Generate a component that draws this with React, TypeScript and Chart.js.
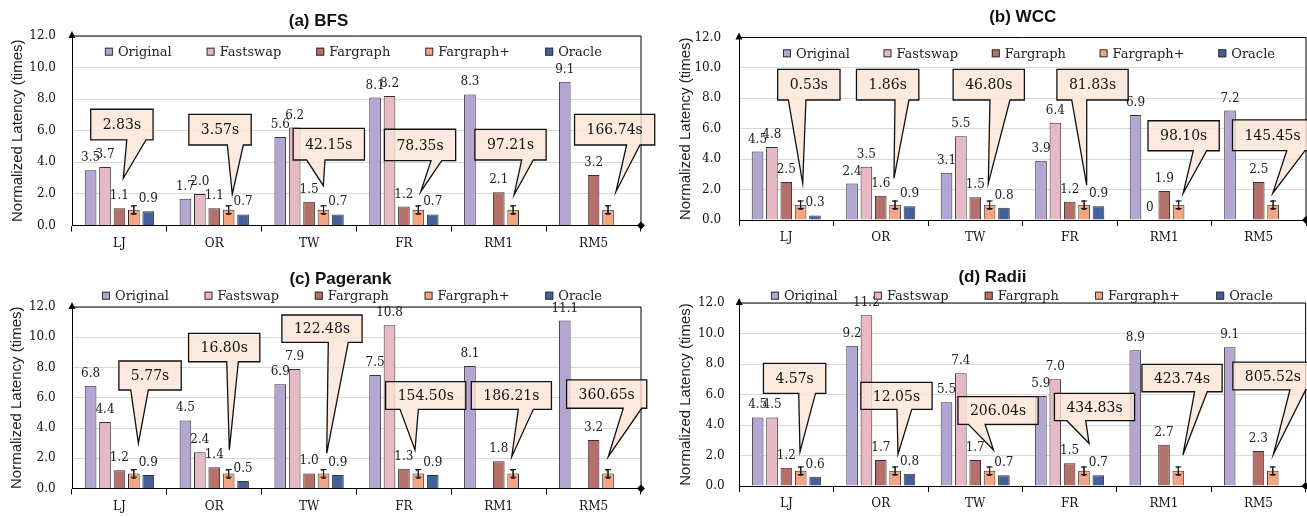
import React, { useEffect, useRef } from "react";
import { Chart, registerables } from "chart.js";

Chart.register(...registerables);

const SERIF = "'DejaVu Serif', serif";
const SANS = "'Liberation Sans', Arial, sans-serif";

// ---------- data ----------
const CATEGORIES = ["LJ", "OR", "TW", "FR", "RM1", "RM5"];
const SERIES = ["Original", "Fastswap", "Fargraph", "Fargraph+", "Oracle"];
const Y_TICKS = [0, 2, 4, 6, 8, 10, 12];
const LABEL_DECIMALS = [1, 1, 1, 0, 1];
const FARGRAPH_PLUS_ERROR = 0.25;

const BFS_ORIGINAL = [3.5, 1.7, 5.6, 8.1, 8.3, 9.1];
const BFS_FASTSWAP = [3.7, 2.0, 6.2, 8.2, null, null];
const BFS_FARGRAPH = [1.1, 1.1, 1.5, 1.2, 2.1, 3.2];
const BFS_FARGRAPH_PLUS = [1, 1, 1, 1, 1, 1];
const BFS_ORACLE = [0.9, 0.7, 0.7, 0.7, null, null];
const BFS_TIMES = ["2.83s", "3.57s", "42.15s", "78.35s", "97.21s", "166.74s"];

const WCC_ORIGINAL = [4.5, 2.4, 3.1, 3.9, 6.9, 7.2];
const WCC_FASTSWAP = [4.8, 3.5, 5.5, 6.4, 0, null];
const WCC_FARGRAPH = [2.5, 1.6, 1.5, 1.2, 1.9, 2.5];
const WCC_FARGRAPH_PLUS = [1, 1, 1, 1, 1, 1];
const WCC_ORACLE = [0.3, 0.9, 0.8, 0.9, null, null];
const WCC_TIMES = ["0.53s", "1.86s", "46.80s", "81.83s", "98.10s", "145.45s"];

const PR_ORIGINAL = [6.8, 4.5, 6.9, 7.5, 8.1, 11.1];
const PR_FASTSWAP = [4.4, 2.4, 7.9, 10.8, null, null];
const PR_FARGRAPH = [1.2, 1.4, 1.0, 1.3, 1.8, 3.2];
const PR_FARGRAPH_PLUS = [1, 1, 1, 1, 1, 1];
const PR_ORACLE = [0.9, 0.5, 0.9, 0.9, null, null];
const PR_TIMES = ["5.77s", "16.80s", "122.48s", "154.50s", "186.21s", "360.65s"];

const RADII_ORIGINAL = [4.5, 9.2, 5.5, 5.9, 8.9, 9.1];
const RADII_FASTSWAP = [4.5, 11.2, 7.4, 7.0, null, null];
const RADII_FARGRAPH = [1.2, 1.7, 1.7, 1.5, 2.7, 2.3];
const RADII_FARGRAPH_PLUS = [1, 1, 1, 1, 1, 1];
const RADII_ORACLE = [0.6, 0.8, 0.7, 0.7, null, null];
const RADII_TIMES = ["4.57s", "12.05s", "206.04s", "434.83s", "423.74s", "805.52s"];

// ---------- callout placement (layout only) ----------
// [box dx (categories), box center (value), box height px, tail base left px, tail base right px, tip dx (categories), tip (value)]
const BFS_CALLOUT_POS = [
  [0.026, 6.39, 30.7, 4.9, 24.1, 0.041, 2.99],
  [0.061, 6.07, 30.7, 7.3, 23.3, 0.19, 1.98],
  [0.208, 5.15, 31.7, -22.1, -3.8, 0.15, 2.52],
  [0.17, 5.1, 31.4, 11, 21.7, 0.177, 2.14],
  [0.124, 5.12, 30.7, 11.2, 22.8, 0.161, 1.93],
  [0.222, 6.07, 30.7, 12, 25.3, 0.236, 2.14],
];
const WCC_CALLOUT_POS = [
  [0.239, 8.9, 30.7, -20.5, -2.9, 0.174, 2.41],
  [0.073, 8.9, 30.7, 7.35, 21.35, 0.14, 2.74],
  [0.143, 8.9, 30.7, 1.2, 21.2, 0.138, 2.41],
  [0.241, 8.9, 30.7, -20.8, -5.8, 0.179, 2.3],
  [0.205, 5.54, 30, 9.65, 23.05, 0.2, 1.76],
  [0.146, 5.57, 30.7, 14.2, 32.5, 0.148, 1.76],
];
const PR_CALLOUT_POS = [
  [0.323, 7.47, 29, -19.3, -1.7, 0.2, 2.99],
  [0.105, 9.32, 28.4, 2.55, 14.15, 0.159, 2.55],
  [0.136, 10.57, 27.3, 6.3, 26.3, 0.186, 2.33],
  [0.23, 6.15, 27.6, -25.7, -7.4, 0.117, 2.55],
  [0.133, 6.15, 27.6, 6.95, 21.95, 0.137, 2.1],
  [0.138, 6.24, 28.3, 16.6, 35, 0.155, 2.1],
];
const RADII_CALLOUT_POS = [
  [0.087, 7.06, 30, 4.1, 20.9, 0.144, 2.25],
  [0.166, 5.91, 27, 0.5, 15.3, 0.182, 2.08],
  [0.242, 4.95, 27.7, -29.6, -12.9, 0.194, 2.36],
  [0.264, 5.18, 27.4, -27.7, -8.8, 0.206, 2.8],
  [0.191, 7.08, 27.4, 12.6, 25.2, 0.2, 2.03],
  [0.154, 7.21, 27.7, 17, 32.7, 0.159, 2.08],
];

// ---------- styles ----------
const SERIES_COLORS = ["#b4a6d2", "#e6b9c5", "#b5706a", "#f4a682", "#43609a"];
const BAR_BORDER = "#333333";
const CALLOUT_FILL = "rgba(251, 229, 214, 0.8)";

const PANELS = [
  {
    key: "a", title: "(a) BFS",
    series: [BFS_ORIGINAL, BFS_FASTSWAP, BFS_FARGRAPH, BFS_FARGRAPH_PLUS, BFS_ORACLE],
    times: BFS_TIMES, calloutPos: BFS_CALLOUT_POS,
    box: { x: 0, y: 0, w: 660, h: 258 },
    padT: 36, padR: 19, yw: 72, xh: 32.5, ytPad: 9.3, tickPad: 16,
    titleX: 318.5, titleY: 21.5, legendCx: 353.4, legendY: 51.7, legendW: 497,
  },
  {
    key: "b", title: "(b) WCC",
    series: [WCC_ORIGINAL, WCC_FASTSWAP, WCC_FARGRAPH, WCC_FARGRAPH_PLUS, WCC_ORACLE],
    times: WCC_TIMES, calloutPos: WCC_CALLOUT_POS,
    box: { x: 655, y: 0, w: 652, h: 258 },
    padT: 37.5, padR: 1, yw: 84, xh: 38, ytPad: 21.6, tickPad: 17.8,
    titleX: 367.7, titleY: 17.5, legendCx: 374, legendY: 53.3, legendW: 492,
  },
  {
    key: "c", title: "(c) Pagerank",
    series: [PR_ORIGINAL, PR_FASTSWAP, PR_FARGRAPH, PR_FARGRAPH_PLUS, PR_ORACLE],
    times: PR_TIMES, calloutPos: PR_CALLOUT_POS,
    box: { x: 0, y: 258, w: 660, h: 259 },
    padT: 49, padR: 19, yw: 72, xh: 28.5, ytPad: 7.8, tickPad: 16.3,
    titleX: 340.4, titleY: 21, legendCx: 352, legendY: 37.7, legendW: 500,
  },
  {
    key: "d", title: "(d) Radii",
    series: [RADII_ORIGINAL, RADII_FASTSWAP, RADII_FARGRAPH, RADII_FARGRAPH_PLUS, RADII_ORACLE],
    times: RADII_TIMES, calloutPos: RADII_CALLOUT_POS,
    box: { x: 655, y: 258, w: 652, h: 259 },
    padT: 45, padR: 1.4, yw: 84.2, xh: 31, ytPad: 21.6, tickPad: 14.6,
    titleX: 337.4, titleY: 19.5, legendCx: 366.9, legendY: 37.7, legendW: 502,
  },
];

function makeDecor(cfg: any) {
  return {
    id: "panelDecor" + cfg.key,
    afterDatasetsDraw(chart: any) {
      const { ctx, chartArea } = chart;
      const { left, right, top, bottom } = chartArea;
      const xs = chart.scales.x;
      const ys = chart.scales.y;
      ctx.save();

      // frame (top, right), arrow on y axis, diamond on x axis
      ctx.strokeStyle = "#000";
      ctx.lineWidth = 1;
      ctx.beginPath();
      ctx.moveTo(left, top);
      ctx.lineTo(right, top);
      ctx.lineTo(right, bottom);
      ctx.stroke();
      ctx.fillStyle = "#000";
      ctx.beginPath();
      ctx.moveTo(left, top - 5);
      ctx.lineTo(left - 3.5, top + 2);
      ctx.lineTo(left + 3.5, top + 2);
      ctx.closePath();
      ctx.fill();
      ctx.beginPath();
      ctx.moveTo(right, bottom - 4);
      ctx.lineTo(right + 4, bottom);
      ctx.lineTo(right, bottom + 4);
      ctx.lineTo(right - 4, bottom);
      ctx.closePath();
      ctx.fill();

      // data labels and error bars
      ctx.font = `12px ${SERIF}`;
      ctx.textAlign = "center";
      chart.data.datasets.forEach((ds: any, k: number) => {
        const meta = chart.getDatasetMeta(k);
        meta.data.forEach((bar: any, i: number) => {
          const v = ds.data[i];
          if (v === null || v === undefined) return;
          const txt = v === 0 ? "0" : v.toFixed(LABEL_DECIMALS[k]);
          if (k === 3) {
            const yHi = ys.getPixelForValue(v + FARGRAPH_PLUS_ERROR);
            const yLo = ys.getPixelForValue(v - FARGRAPH_PLUS_ERROR);
            ctx.strokeStyle = "#000";
            ctx.lineWidth = 1;
            ctx.beginPath();
            ctx.moveTo(bar.x, yHi);
            ctx.lineTo(bar.x, yLo);
            ctx.moveTo(bar.x - 3, yHi);
            ctx.lineTo(bar.x + 3, yHi);
            ctx.moveTo(bar.x - 3, yLo);
            ctx.lineTo(bar.x + 3, yLo);
            ctx.stroke();
            ctx.fillStyle = "#222";
            ctx.textBaseline = "middle";
            ctx.fillText(txt, bar.x, bar.y + 2);
          } else {
            ctx.fillStyle = "#222";
            ctx.textBaseline = "alphabetic";
            ctx.fillText(txt, bar.x, bar.y - 9);
          }
        });
      });

      // callouts
      const catW = xs.getPixelForValue(1) - xs.getPixelForValue(0);
      ctx.font = `14px ${SERIF}`;
      cfg.times.forEach((txt: string, i: number) => {
        const [dx, by, h, b0, b1, tdx, ty] = cfg.calloutPos[i];
        const base = xs.getPixelForValue(i);
        const cx = base + dx * catW;
        const cy = ys.getPixelForValue(by);
        const w = ctx.measureText(txt).width + 24;
        const l = cx - w / 2, r = cx + w / 2, t = cy - h / 2, b = cy + h / 2;
        const tipX = base + tdx * catW;
        const tipY = ys.getPixelForValue(ty);
        ctx.beginPath();
        ctx.moveTo(l, t);
        ctx.lineTo(r, t);
        ctx.lineTo(r, b);
        ctx.lineTo(cx + b1, b);
        ctx.lineTo(tipX, tipY);
        ctx.lineTo(cx + b0, b);
        ctx.lineTo(l, b);
        ctx.closePath();
        ctx.fillStyle = CALLOUT_FILL;
        ctx.fill();
        ctx.strokeStyle = "#111";
        ctx.lineWidth = 1.3;
        ctx.stroke();
        ctx.fillStyle = "#111";
        ctx.textAlign = "center";
        ctx.textBaseline = "middle";
        ctx.fillText(txt, cx, cy + 1);
      });

      // legend
      ctx.font = `13px ${SERIF}`;
      const items = chart.data.datasets.map((ds: any) => ({
        label: ds.label,
        color: ds.backgroundColor,
        w: 8 + 5 + ctx.measureText(ds.label).width,
      }));
      const sum = items.reduce((s: number, it: any) => s + it.w, 0);
      const gap = (cfg.legendW - sum) / (items.length - 1);
      let lx = cfg.legendCx - cfg.legendW / 2;
      ctx.textAlign = "left";
      ctx.textBaseline = "middle";
      items.forEach((it: any) => {
        ctx.fillStyle = it.color;
        ctx.fillRect(lx, cfg.legendY - 4, 8, 8);
        ctx.strokeStyle = BAR_BORDER;
        ctx.lineWidth = 1;
        ctx.strokeRect(lx + 0.5, cfg.legendY - 3.5, 7, 7);
        ctx.fillStyle = "#222";
        ctx.fillText(it.label, lx + 13, cfg.legendY + 1);
        lx += it.w + gap;
      });

      // title
      ctx.font = `bold 17px ${SANS}`;
      ctx.textAlign = "center";
      ctx.textBaseline = "middle";
      ctx.fillStyle = "#111";
      ctx.fillText(cfg.title, cfg.titleX, cfg.titleY);

      ctx.restore();
    },
  };
}

function Panel({ cfg }: { cfg: any }) {
  const ref = useRef<HTMLCanvasElement>(null);
  useEffect(() => {
    const chart = new Chart(ref.current as HTMLCanvasElement, {
      type: "bar",
      data: {
        labels: CATEGORIES,
        datasets: SERIES.map((name, k) => ({
          label: name,
          data: cfg.series[k],
          backgroundColor: SERIES_COLORS[k],
          borderColor: BAR_BORDER,
          borderWidth: 1,
          categoryPercentage: 0.76,
          barPercentage: 0.81,
        })),
      },
      options: {
        responsive: false,
        animation: false,
        devicePixelRatio: 1,
        layout: { padding: { left: 0, right: cfg.padR, top: cfg.padT, bottom: 0 } },
        plugins: {
          legend: { display: false },
          title: { display: false },
          tooltip: { enabled: false },
        },
        scales: {
          x: {
            grid: {
              display: true,
              offset: true,
              drawOnChartArea: false,
              drawTicks: true,
              tickLength: 6,
              color: "#000",
            },
            border: { display: true, color: "#000", width: 1 },
            ticks: { font: { family: SERIF, size: 12 }, color: "#111", padding: 5 },
            afterFit: (s: any) => {
              s.height = cfg.xh;
            },
          },
          y: {
            min: 0,
            max: 12,
            afterBuildTicks: (s: any) => {
              s.ticks = Y_TICKS.map((v) => ({ value: v }));
            },
            grid: { color: "#d9d9d9", drawTicks: false },
            border: { display: true, color: "#000", width: 1 },
            ticks: {
              font: { family: SERIF, size: 12 },
              color: "#111",
              padding: cfg.tickPad,
              callback: (v: any) => Number(v).toFixed(1),
            },
            title: {
              display: true,
              text: "Normalized Latency (times)",
              font: { family: SANS, size: 15 },
              color: "#222",
              padding: { top: cfg.ytPad, bottom: 0 },
            },
            afterFit: (s: any) => {
              s.width = cfg.yw;
            },
          },
        },
      },
      plugins: [makeDecor(cfg)],
    } as any);
    return () => chart.destroy();
  }, []);
  return (
    <canvas
      ref={ref}
      width={cfg.box.w}
      height={cfg.box.h}
      style={{
        position: "absolute",
        left: cfg.box.x,
        top: cfg.box.y,
        width: cfg.box.w,
        height: cfg.box.h,
      }}
    />
  );
}

export default function App() {
  return (
    <div
      style={{
        position: "absolute",
        left: 0,
        top: 0,
        width: 1307,
        height: 517,
        background: "#fff",
        overflow: "hidden",
      }}
    >
      {PANELS.map((p) => (
        <Panel key={p.key} cfg={p} />
      ))}
    </div>
  );
}
